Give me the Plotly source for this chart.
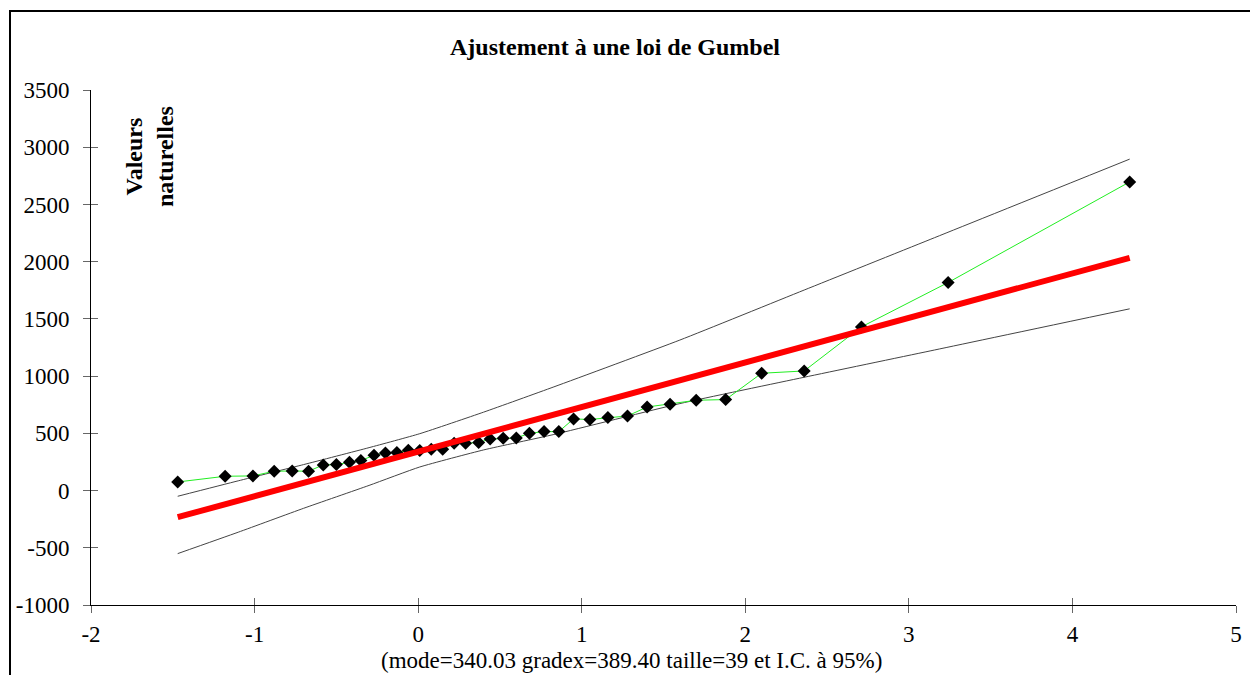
import plotly.graph_objects as go

# Gumbel reduced variable (x) and observed values
u_pts = [-1.47, -1.18, -1.01, -0.88, -0.77, -0.67, -0.58, -0.50, -0.42, -0.35,
         -0.27, -0.20, -0.13, -0.06, 0.01, 0.08, 0.15, 0.22, 0.29, 0.37,
         0.44, 0.52, 0.60, 0.68, 0.77, 0.86, 0.95, 1.05, 1.16, 1.28,
         1.40, 1.54, 1.70, 1.88, 2.10, 2.36, 2.71, 3.24, 4.35]
obs_vals = [75, 125, 128, 169, 171, 169, 224, 227, 247, 262,
            308, 329, 332, 352, 350, 360, 360, 413, 414, 419,
            450, 457, 460, 500, 515, 515, 626, 621, 638, 652,
            730, 755, 789, 795, 1025, 1045, 1430, 1818, 2697]

# Fitted Gumbel line (end points)
fit_u = [-1.47, 4.35]
fit_vals = [-233, 2034]

# 95% confidence bounds
ci_u = [-1.47, -1.10, -0.70, -0.30, 0.01, 0.40, 0.83, 1.60, 2.36, 3.13, 4.35]
ci_upper = [-50, 85, 227, 375, 497, 685, 906, 1315, 1752, 2194, 2896]
ci_lower = [-551, -364, -155, 45, 206, 355, 490, 760, 990, 1220, 1588]

x_ticks = [-2, -1, 0, 1, 2, 3, 4, 5]
x_ticktext = ["-2", "-1", "0", "1", "2", "3", "4", "5"]
y_ticks = [-1000, -500, 0, 500, 1000, 1500, 2000, 2500, 3000, 3500]
y_ticktext = ["-1000", "-500", "0", "500", "1000", "1500", "2000", "2500", "3000", "3500"]

title_text = "Ajustement à une loi de Gumbel"
ytitle_text = "Valeurs<br>naturelles"
caption_text = "(mode=340.03 gradex=389.40 taille=39 et I.C. à 95%)"

FONT = "Liberation Serif, Times New Roman, serif"

fig = go.Figure()
fig.add_trace(go.Scatter(x=ci_u, y=ci_upper, mode="lines", line=dict(color="#444444", width=1, shape="spline", smoothing=0.5), showlegend=False))
fig.add_trace(go.Scatter(x=ci_u, y=ci_lower, mode="lines", line=dict(color="#444444", width=1, shape="spline", smoothing=0.5), showlegend=False))
fig.add_trace(go.Scatter(x=u_pts, y=obs_vals, mode="lines+markers",
                         line=dict(color="#22EE22", width=1),
                         marker=dict(symbol="diamond", size=10, color="black"),
                         showlegend=False))
fig.add_trace(go.Scatter(x=fit_u, y=fit_vals, mode="lines", line=dict(color="#FF0000", width=6), showlegend=False))

# invisible trace for the overlaid axes that draw the inner half of the crossing ticks
fig.add_trace(go.Scatter(x=[None], y=[None], xaxis="x2", yaxis="y2", showlegend=False))

OFF = 8  # page body margin
L, R, T, B = 83, 22, 82, 70
W, H = 1250, 667
pw, ph = W - L - R, H - T - B

def px_x(p):
    return (p - OFF - L) / pw

def px_y(p):
    return (H - B - (p - OFF)) / ph

axis_common = dict(showgrid=False, zeroline=False, showline=True, linecolor="black", linewidth=1,
                   ticks="outside", ticklen=7, tickcolor="#666666", tickwidth=1, automargin=False,
                   tickfont=dict(family=FONT, size=23, color="black"))

fig.update_layout(
    width=W, height=H, autosize=False,
    margin=dict(l=L, r=R, t=T, b=B, autoexpand=False),
    paper_bgcolor="white", plot_bgcolor="white",
    xaxis=dict(range=[-2, 5], tickvals=x_ticks, ticktext=x_ticktext, ticklabelstandoff=1, **axis_common),
    yaxis=dict(range=[-1000, 3500], tickvals=y_ticks, ticktext=y_ticktext, ticklabelstandoff=9, **axis_common),
    xaxis2=dict(range=[-2, 5], tickvals=x_ticks, overlaying="x", anchor="y", side="bottom",
                ticks="inside", ticklen=7, tickcolor="#666666", showticklabels=False, automargin=False,
                showgrid=False, zeroline=False, showline=False),
    yaxis2=dict(range=[-1000, 3500], tickvals=y_ticks, overlaying="y", anchor="x", side="left",
                ticks="inside", ticklen=7, tickcolor="#666666", showticklabels=False, automargin=False,
                showgrid=False, zeroline=False, showline=False),
    shapes=[dict(type="rect", xref="paper", yref="paper",
                 x0=px_x(10), x1=px_x(1275), y0=px_y(690), y1=px_y(11),
                 line=dict(color="black", width=2), fillcolor="rgba(0,0,0,0)")],
    annotations=[
        dict(text="<b>" + title_text + "</b>", xref="paper", yref="paper",
             x=px_x(615), y=px_y(47), xanchor="center", yanchor="middle", showarrow=False,
             font=dict(family=FONT, size=24, color="black")),
        dict(text="<b>" + ytitle_text + "</b>", xref="paper", yref="paper",
             x=px_x(149), y=px_y(157), xanchor="center", yanchor="middle", showarrow=False,
             textangle=-90, font=dict(family=FONT, size=24, color="black")),
        dict(text=caption_text, xref="paper", yref="paper",
             x=px_x(631), y=px_y(660), xanchor="center", yanchor="middle", showarrow=False,
             font=dict(family=FONT, size=23, color="black")),
    ],
)

fig.write_html("out.html")
